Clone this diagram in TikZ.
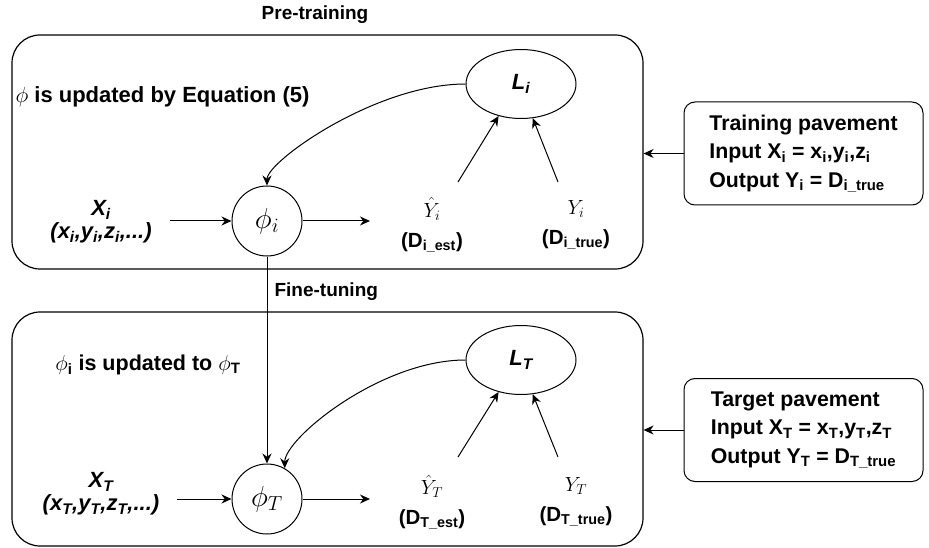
\RequirePackage{fix-cm}
\documentclass[tikz,border=0pt]{standalone}
\usepackage{fontspec}
\setmainfont{Liberation Sans}
\usetikzlibrary{arrows.meta}
\usetikzlibrary{shapes.geometric}
\usetikzlibrary{positioning}
\tikzset{x=1pt, y=-1pt,
  every node/.style={align=center,
    font=\fontsize{21.5}{24}\selectfont\bfseries},
  phase/.style={draw, line width=1.2pt, rounded corners=28pt,
    minimum width=631pt, minimum height=234pt},
  infobox/.style={draw, line width=1pt, rounded corners=11pt, align=left,
    minimum width=239pt, minimum height=103pt,
    font=\fontsize{21.3}{28.5}\selectfont\bfseries},
  model/.style={draw, circle, line width=1pt, minimum size=70pt, inner sep=0pt,
    font=\fontsize{29}{29}\selectfont},
  loss/.style={draw, ellipse, line width=1pt, minimum width=110pt,
    minimum height=69pt, inner sep=0pt,
    font=\fontsize{22}{22}\selectfont\bfseries\itshape},
  stage/.style={font=\fontsize{19}{21}\selectfont\bfseries},
  invar/.style={font=\fontsize{22}{23}\selectfont\bfseries\itshape},
  outvar/.style={font=\fontsize{20.5}{30}\selectfont\bfseries},
  arr/.style={-{Stealth[length=10pt,width=9pt]}, line width=1pt}}

\begin{document}
\begin{tikzpicture}
  \useasboundingbox (0,0) rectangle (929,548);

  % the two phases
  \node [phase] (pre) at (327.5,152) {};
  \node [phase] (fine) at (327.5,429) {};
  \node [stage] (pt) at (315,15) {Pre-training};
  \node [stage, anchor=west] (ft) at (271,292) {Fine-tuning};

  \node [anchor=west, font=\fontsize{22}{24}\selectfont\bfseries] (eq) at (12,97) {$\phi$ is updated by Equation (5)};
  \node (upd) at (148,365) {$\phi$\textsubscript{i} is updated to $\phi$\textsubscript{T}};

  % pre-training
  \node [model] (phii) at (267,221) {$\phi_i$};
  \node [loss] (li) at (521,84) {L\textsubscript{i}};
  \node [invar] (xi) at (101,222) {X\textsubscript{i}\\(x\textsubscript{i},y\textsubscript{i},z\textsubscript{i},...)};
  \node [outvar] (yhi) at (432,225) {$\hat{Y}_i$\\(D\textsubscript{i\_est})};
  \node [outvar] (yi) at (576,225) {$Y_i$\\(D\textsubscript{i\_true})};
  \coordinate (oi) at (370,221);
  \coordinate (ei) at (458,182);
  \coordinate (ti) at (558,182);

  \draw [arr] ([xshift=15pt]xi.east |- phii.west) -- (phii.west);
  \draw [arr] (phii.east) -- (oi);
  \draw [arr] (ei) -- (li.235);
  \draw [arr] (ti) -- (li.289);
  \draw [arr] (li.west) .. controls +(-90,0) and +(0,-24) .. (phii.north);

  % fine-tuning
  \node [model] (phit) at (267,499) {$\phi_T$};
  \node [loss] (lt) at (521,360) {L\textsubscript{T}};
  \node [invar] (xt) at (101,494) {X\textsubscript{T}\\(x\textsubscript{T},y\textsubscript{T},z\textsubscript{T},...)};
  \node [outvar] (yht) at (432,502) {$\hat{Y}_T$\\(D\textsubscript{T\_est})};
  \node [outvar] (yt) at (576,502) {$Y_T$\\(D\textsubscript{T\_true})};
  \coordinate (ot) at (370,499);
  \coordinate (et) at (458,457);
  \coordinate (tt) at (558,457);

  \draw [arr] ([xshift=14pt]xt.east |- phit.west) -- (phit.west);
  \draw [arr] (phit.east) -- (ot);
  \draw [arr] (et) -- (lt.235);
  \draw [arr] (tt) -- (lt.289);
  \draw [arr] (lt.west) .. controls +(-85,0) and +(0,-30) .. (phit.60);
  \draw [arr] (phii.south) -- (phit.north);

  % pavement data
  \node [infobox] (train) at (803.5,153.5) {Training pavement\\Input X\textsubscript{i} = x\textsubscript{i},y\textsubscript{i},z\textsubscript{i}\\Output Y\textsubscript{i} = D\textsubscript{i\_true}};
  \node [infobox] (target) at (803.5,430) {Target pavement\\Input X\textsubscript{T} = x\textsubscript{T},y\textsubscript{T},z\textsubscript{T}\\Output Y\textsubscript{T} = D\textsubscript{T\_true}};
  \draw [arr] (train.west) -- (train.west -| pre.east);
  \draw [arr] (target.west) -- (target.west -| fine.east);
\end{tikzpicture}
\end{document}
